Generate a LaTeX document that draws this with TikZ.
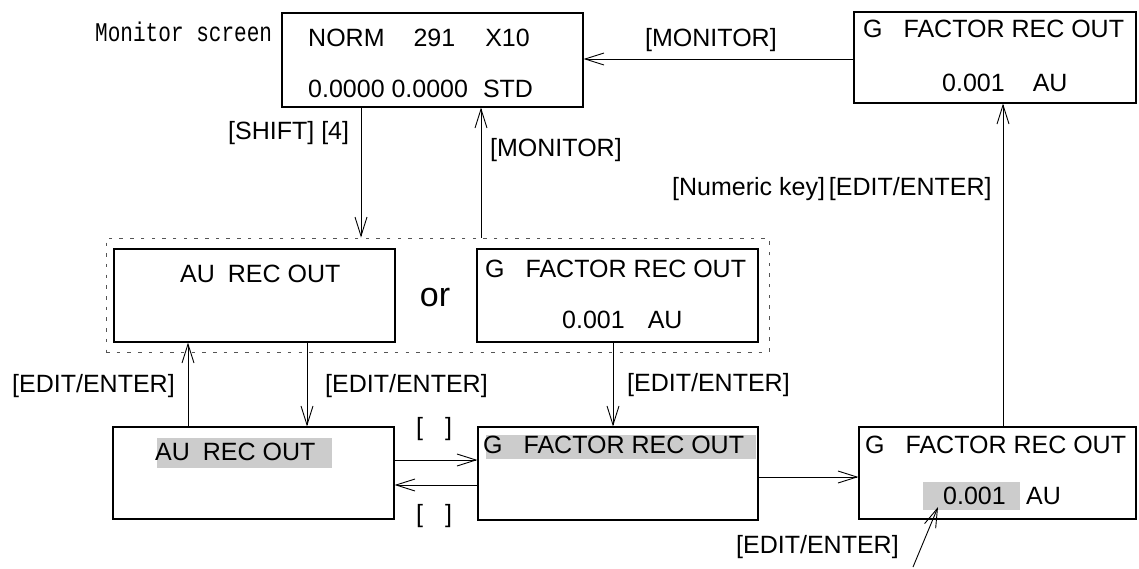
\documentclass[tikz,border=0pt]{standalone}
\usepackage{fontspec}
\usepackage{graphicx}
\setmainfont{Liberation Sans}
\newfontfamily\monofnt{Liberation Mono}
\usetikzlibrary{arrows.meta}
\definecolor{hlgray}{HTML}{CCCCCC}
\definecolor{grpgray}{HTML}{555555}
\begin{document}
\begin{tikzpicture}[x=1pt,y=-1pt,
  box/.style={draw=black,line width=1.1pt,rectangle,inner sep=0pt},
  grpbox/.style={draw=grpgray,line width=0.9pt,rectangle,inner sep=0pt,dash pattern=on 3.5pt off 7.2pt},
  txt/.style={anchor=base west,inner sep=0pt,font=\fontsize{25}{30}\selectfont},
  bigtxt/.style={anchor=base,inner sep=0pt,font=\fontsize{34}{40}\selectfont},
  arr/.style={draw=black,line width=0.9pt,-{Straight Barb[length=19pt,width=12pt,line width=0.9pt]}},
  hl/.style={fill=hlgray,draw=none}
]
\useasboundingbox (0,0) rectangle (1139,568);

% highlights
\fill[hl] (157,438) rectangle (332,468);
\fill[hl] (486,435) rectangle (756,459);
\fill[hl] (923,482) rectangle (1020,510);

% group
\node[grpbox,minimum width=663pt,minimum height=114pt] (grp) at (437.5,295) {};

% boxes
\node[box,minimum width=301pt,minimum height=94pt] (mon) at (432.5,60) {};
\node[box,minimum width=282pt,minimum height=91pt] (tr) at (995,57.5) {};
\node[box,minimum width=281pt,minimum height=93pt] (au1) at (254.5,295.5) {};
\node[box,minimum width=281pt,minimum height=93pt] (gf1) at (617.5,295.5) {};
\node[box,minimum width=281pt,minimum height=92pt] (au2) at (253.5,473) {};
\node[box,minimum width=280pt,minimum height=93pt] (gf2) at (618,473.5) {};
\node[box,minimum width=277pt,minimum height=92pt] (gf3) at (997.5,473) {};

% texts
\node[anchor=base west,inner sep=0pt,font=\monofnt\fontsize{27}{30}\selectfont] (ms) at (95,41) {\scalebox{0.78}[1]{Monitor screen}};
\node[txt] (m1) at (308,46) {NORM\hspace{29pt}291\hspace{30pt}X10};
\node[txt] (m2) at (308,97) {0.0000 0.0000\hspace{15pt}STD};
\node[txt] (t1) at (863,37) {G\hspace{21pt}FACTOR REC OUT};
\node[txt] (t2) at (942,91) {0.001\hspace{28pt}AU};
\node[txt] (a1t) at (180,282) {AU\hspace{13pt}REC OUT};
\node[bigtxt] (or) at (435,306) {or};
\node[txt] (g1a) at (485,277) {G\hspace{21pt}FACTOR REC OUT};
\node[txt] (g1b) at (562,328) {0.001\hspace{23pt}AU};
\node[txt] (a2t) at (155,460) {AU\hspace{13pt}REC OUT};
\node[txt] (g2t) at (483,453) {G\hspace{21pt}FACTOR REC OUT};
\node[txt] (g3a) at (865,453) {G\hspace{21pt}FACTOR REC OUT};
\node[txt] (g3b) at (943,504) {0.001};
\node[txt] (g3c) at (1026,504) {AU};

% labels
\node[txt] (lmon1) at (645,46) {[MONITOR]};
\node[txt] (lshift) at (228,139) {[SHIFT] [4]};
\node[txt] (lmon2) at (490,156) {[MONITOR]};
\node[txt] (lnum) at (672,195) {[Numeric key]\hspace{4pt}[EDIT/ENTER]};
\node[txt] (le1) at (12,392) {[EDIT/ENTER]};
\node[txt] (le2) at (325,392) {[EDIT/ENTER]};
\node[txt] (le3) at (627,391) {[EDIT/ENTER]};
\node[txt] (lb1) at (416,435) {[\hspace{22pt}]};
\node[txt] (lb2) at (416,522) {[\hspace{22pt}]};
\node[txt] (le4) at (736,553) {[EDIT/ENTER]};

% connector helper coordinates
\coordinate (y1) at (0,59);
\coordinate (xa) at (361,0);
\coordinate (xb) at (481,0);
\coordinate (xc) at (188,0);
\coordinate (xd) at (307,0);
\coordinate (xe) at (613,0);
\coordinate (xf) at (1003,0);
\coordinate (ya) at (0,460);
\coordinate (yb) at (0,485);
\coordinate (yc) at (0,477);
\coordinate (free) at (913,567);
\coordinate (tip) at (938,507);

% connectors
\draw[arr] (tr.west |- y1) -- (mon.east |- y1);
\draw[arr] (mon.south -| xa) -- (grp.north -| xa);
\draw[arr] (grp.north -| xb) -- (mon.south -| xb);
\draw[arr] (au2.north -| xc) -- (au1.south -| xc);
\draw[arr] (au1.south -| xd) -- (au2.north -| xd);
\draw[arr] (gf1.south -| xe) -- (gf2.north -| xe);
\draw[arr] (au2.east |- ya) -- (gf2.west |- ya);
\draw[arr] (gf2.west |- yb) -- (au2.east |- yb);
\draw[arr] (gf2.east |- yc) -- (gf3.west |- yc);
\draw[arr] (gf3.north -| xf) -- (tr.south -| xf);
\draw[arr] (free) -- (tip);
\end{tikzpicture}
\end{document}
